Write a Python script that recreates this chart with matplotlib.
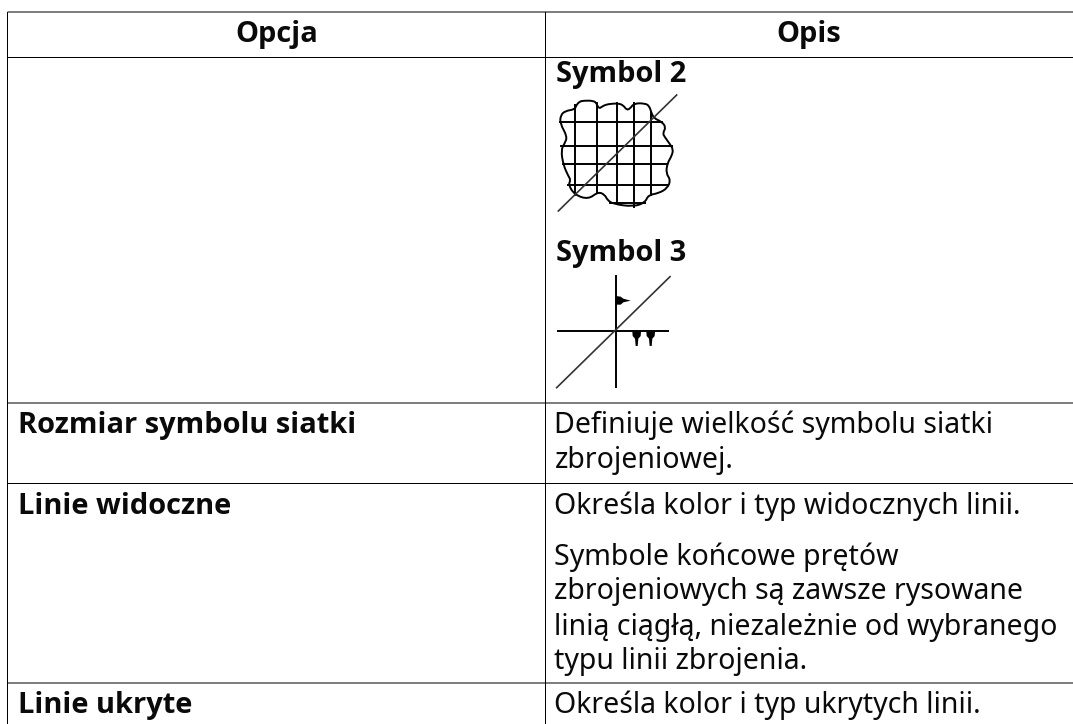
import matplotlib.pyplot as plt
from matplotlib.patches import PathPatch
from matplotlib.path import Path

WIDTH, HEIGHT = 1073, 724
BOLD_PT = 29 * 72 / 100
BODY_PT = 28.5 * 72 / 100

headers = ["Opcja", "Opis"]
option_labels = ["Rozmiar symbolu siatki", "Linie widoczne", "Linie ukryte"]
symbol_labels = ["Symbol 2", "Symbol 3"]
size_desc = ["Definiuje wielkość symbolu siatki", "zbrojeniowej."]
visible_desc = "Określa kolor i typ widocznych linii."
visible_note = [
    "Symbole końcowe prętów",
    "zbrojeniowych są zawsze rysowane",
    "linią ciągłą, niezależnie od wybranego",
    "typu linii zbrojenia.",
]
hidden_desc = "Określa kolor i typ ukrytych linii."

# table rules in pixels of the page
left_x = 7.5
mid_x = 545.5
crisp_rows = [57.5, 483.5]
soft_rows = [12.0, 403.0, 683.0]

cloud_x = [138, 148, 160, 190, 200, 206, 220, 235, 265, 280, 290, 300, 312, 345, 358, 364, 372,
           395, 408, 398, 405, 418, 430, 425, 412, 408, 422, 412, 385, 355, 345, 310, 250, 232, 225,
           205, 175, 135, 115, 122, 115, 100, 93, 104, 112, 90, 92, 105, 135]
cloud_y = [197, 185, 182, 182, 190, 207, 197, 192, 190, 196, 210, 206, 190, 190, 198, 218, 235,
           245, 262, 280, 292, 310, 328, 348, 370, 400, 420, 445, 460, 465, 488, 500, 492, 480, 465,
           455, 478, 465, 435, 420, 408, 375, 330, 310, 290, 250, 226, 213, 208]
grid_v = [135, 200, 262, 312, 362]
grid_v_top = [195, 190, 190, 190, 215]
grid_v_bot = [465, 460, 490, 500, 465]
grid_h = [247, 318, 372, 435, 490]
grid_h_left = [90, 93, 100, 115, 240]
grid_h_right = [395, 425, 412, 412, 345]
diag2_x = [85, 440]
diag2_y = [513, 165]

cross_v_x = [257, 257]
cross_v_y = [138, 470]
cross_h_x = [85, 415]
cross_h_y = [303, 303]
diag3_x = [80, 420]
diag3_y = [473, 140]
flag_x = [257, 272, 280, 302, 280, 272, 257]
flag_y = [198, 200, 206, 212, 217, 224, 224]
tick_centers = [320, 362]


def cx(z):
    return 530 + z / 3


def cy2(z):
    return 40 + z / 3


def cy3(z):
    return 230 + z / 3


fig = plt.figure(figsize=(WIDTH / 100, HEIGHT / 100), dpi=100)
ax = fig.add_axes([0, 0, 1, 1])
ax.set_xlim(0, WIDTH)
ax.set_ylim(HEIGHT, 0)
ax.axis("off")


def put(x, y, s, bold=False, ha="left"):
    if bold:
        ax.text(x, y, s, fontsize=BOLD_PT, family="Open Sans", fontweight="bold",
                ha=ha, va="baseline", color="#0a0a0a")
    else:
        ax.text(x, y, s, fontsize=BODY_PT, family="Noto Sans",
                ha=ha, va="baseline", color="#0a0a0a")


def rule(xs, ys, **kw):
    line, = ax.plot(xs, ys, solid_capstyle="butt", **kw)
    line.set_snap(False)


for x in [left_x, mid_x]:
    rule([x, x], [soft_rows[0], HEIGHT], color="black", lw=0.72)
for y in crisp_rows + soft_rows:
    rule([left_x, WIDTH], [y, y], color="black", lw=0.72)

put((left_x + mid_x) / 2, 41.7, headers[0], bold=True, ha="center")
put((mid_x + WIDTH) / 2, 41.7, headers[1], bold=True, ha="center")

put(556, 81.7, symbol_labels[0], bold=True)
put(556, 261, symbol_labels[1], bold=True)

put(18.5, 432.5, option_labels[0], bold=True)
put(18.5, 513.5, option_labels[1], bold=True)
put(18.5, 713.5, option_labels[2], bold=True)

for y, s in zip([433, 468], size_desc):
    put(554.5, y, s)
put(554.5, 514, visible_desc)
for y, s in zip([565, 599.5, 634.5, 669.5], visible_note):
    put(554.5, y, s)
put(554.5, 713.5, hidden_desc)

# symbol 2: rounded outline through the midpoints of the read points
lw = 1.4
pts = [(cx(a), cy2(b)) for a, b in zip(cloud_x, cloud_y)]
mids = [((p[0] + q[0]) / 2, (p[1] + q[1]) / 2) for p, q in zip(pts, pts[1:] + pts[:1])]
verts = [mids[-1]]
codes = [Path.MOVETO]
for p, m in zip(pts, mids):
    verts += [p, m]
    codes += [Path.CURVE3, Path.CURVE3]
ax.add_patch(PathPatch(Path(verts, codes), facecolor="none", edgecolor="black", lw=lw))
for x, t, b in zip(grid_v, grid_v_top, grid_v_bot):
    ax.plot([cx(x)] * 2, [cy2(t), cy2(b)], color="black", lw=lw)
for y, l, r in zip(grid_h, grid_h_left, grid_h_right):
    ax.plot([cx(l), cx(r)], [cy2(y)] * 2, color="black", lw=lw)
ax.plot([cx(v) for v in diag2_x], [cy2(v) for v in diag2_y], color="#333333", lw=1.2)

# symbol 3
ax.plot([cx(v) for v in cross_v_x], [cy3(v) for v in cross_v_y], color="black", lw=lw)
ax.plot([cx(v) for v in cross_h_x], [cy3(v) for v in cross_h_y], color="black", lw=lw)
ax.plot([cx(v) for v in diag3_x], [cy3(v) for v in diag3_y], color="#333333", lw=1.2)
ax.fill([cx(v) for v in flag_x], [cy3(v) for v in flag_y], color="black", lw=0)
for c in tick_centers:
    ax.fill([cx(c - 13), cx(c + 13), cx(c + 12), cx(c + 5), cx(c + 3), cx(c - 3), cx(c - 5), cx(c - 12)],
            [cy3(305), cy3(305), cy3(318), cy3(326), cy3(348), cy3(348), cy3(326), cy3(318)],
            color="black", lw=0)

fig.savefig("out.png", dpi=100)
